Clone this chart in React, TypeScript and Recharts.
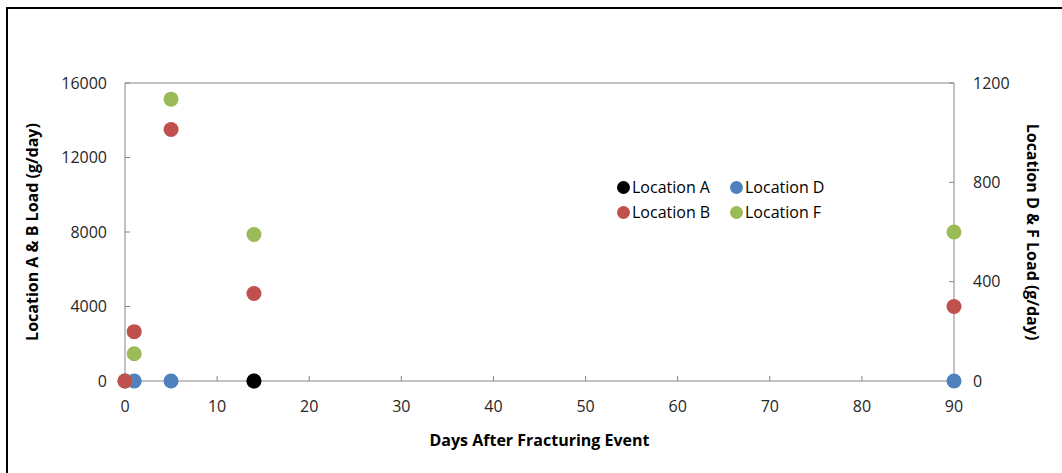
import React from "react";
import {
  ScatterChart,
  Scatter,
  XAxis,
  YAxis,
  ReferenceLine,
} from "recharts";

const days = [0, 1, 5, 14, 90];

// Location A & B on the left axis (g/day)
const locA = [{ day: 14, load: 0 }];
const locBLoads = [0, 2650, 13500, 4700, 4000];

// Location D & F on the right axis (g/day)
const locDLoads = [0, 0, 0, 0, 0];
const locFLoads = [0, 110, 1135, 590, 600];

const xTicks = [0, 10, 20, 30, 40, 50, 60, 70, 80, 90];
const leftTicks = [0, 4000, 8000, 12000, 16000];
const rightTicks = [0, 400, 800, 1200];

const locB = days.map((d, i) => ({ day: d, load: locBLoads[i] }));
const locD = days.map((d, i) => ({ day: d, load: locDLoads[i] }));
const locF = days.map((d, i) => ({ day: d, load: locFLoads[i] }));

const COLORS = {
  A: "#000000",
  B: "#C0504D",
  D: "#4F81BD",
  F: "#9BBB59",
};

const AXIS = "#868686";
const FONT = "'Open Sans', sans-serif";
const tickStyle = { fill: "#262626", fontSize: 16, fontFamily: FONT };

const legendItems = [
  { name: "Location A", color: COLORS.A },
  { name: "Location D", color: COLORS.D },
  { name: "Location B", color: COLORS.B },
  { name: "Location F", color: COLORS.F },
];

// marker drawn as a plain dot, ~15px across like the reference
const dot = (color: string) => (props: any) =>
  <circle cx={props.cx} cy={props.cy} r={7.5} fill={color} />;

function ChartLegend() {
  return (
    <div
      style={{
        position: "absolute",
        left: 617,
        top: 177,
        display: "grid",
        gridTemplateColumns: "113px 110px",
        rowGap: 5,
        fontFamily: FONT,
        fontSize: 16,
        color: "#000",
      }}
    >
      {legendItems.map((it) => (
        <div key={it.name} style={{ display: "flex", alignItems: "center", height: 20 }}>
          <span
            style={{
              display: "inline-block",
              width: 13,
              height: 13,
              borderRadius: 7,
              background: it.color,
              marginRight: 2,
            }}
          />
          {it.name}
        </div>
      ))}
    </div>
  );
}

const titleProps = {
  textAnchor: "middle" as const,
  dominantBaseline: "central" as const,
  fontFamily: FONT,
  fontSize: 16,
  fontWeight: "bold",
  fill: "#000",
};

export default function App() {
  return (
    <div
      style={{
        position: "absolute",
        left: 0,
        top: 0,
        width: 1062,
        height: 473,
        background: "#fff",
        overflow: "hidden",
      }}
    >
      <div
        style={{
          position: "absolute",
          left: 6,
          top: 7,
          right: -10,
          bottom: -10,
          borderLeft: "2px solid #000",
          borderTop: "2px solid #000",
        }}
      />
      <ScatterChart
        width={1062}
        height={473}
        margin={{ top: 83, right: 10, bottom: 32, left: 10 }}
        style={{ position: "absolute", left: 0, top: 0 }}
      >
        <XAxis
          type="number"
          dataKey="day"
          domain={[0, 90]}
          ticks={xTicks}
          interval={0}
          height={60}
          stroke={AXIS}
          tickSize={-5}
          tickMargin={25}
          tick={tickStyle}
          label={{
            content: (p: any) => {
              const vb = p.viewBox;
              return (
                <text x={vb.x + vb.width / 2} y={vb.y + 59} {...titleProps}>
                  Days After Fracturing Event
                </text>
              );
            },
          }}
        />
        <YAxis
          yAxisId="left"
          type="number"
          dataKey="load"
          domain={[0, 16000]}
          ticks={leftTicks}
          interval={0}
          width={115}
          stroke={AXIS}
          tickSize={-5}
          tickMargin={23}
          tick={tickStyle}
          label={{
            content: (p: any) => {
              const vb = p.viewBox;
              const cx = vb.x + 22;
              const cy = vb.y + vb.height / 2;
              return (
                <text x={cx} y={cy} transform={`rotate(-90 ${cx} ${cy})`} {...titleProps}>
                  Location A &amp; B Load (g/day)
                </text>
              );
            },
          }}
        />
        <YAxis
          yAxisId="right"
          orientation="right"
          type="number"
          dataKey="load"
          domain={[0, 1200]}
          ticks={rightTicks}
          interval={0}
          width={98}
          stroke={AXIS}
          tickSize={-5}
          tickMargin={24}
          tick={tickStyle}
          label={{
            content: (p: any) => {
              const vb = p.viewBox;
              const cx = vb.x + 79;
              const cy = vb.y + vb.height / 2;
              return (
                <text x={cx} y={cy} transform={`rotate(90 ${cx} ${cy})`} {...titleProps}>
                  Location D &amp; F Load (g/day)
                </text>
              );
            },
          }}
        />
        <ReferenceLine yAxisId="left" y={16000} stroke={AXIS} />
        <Scatter name="Location D" yAxisId="right" data={locD} shape={dot(COLORS.D)} isAnimationActive={false} />
        <Scatter name="Location F" yAxisId="right" data={locF} shape={dot(COLORS.F)} isAnimationActive={false} />
        <Scatter name="Location A" yAxisId="left" data={locA} shape={dot(COLORS.A)} isAnimationActive={false} />
        <Scatter name="Location B" yAxisId="left" data={locB} shape={dot(COLORS.B)} isAnimationActive={false} />
      </ScatterChart>
      <ChartLegend />
    </div>
  );
}
